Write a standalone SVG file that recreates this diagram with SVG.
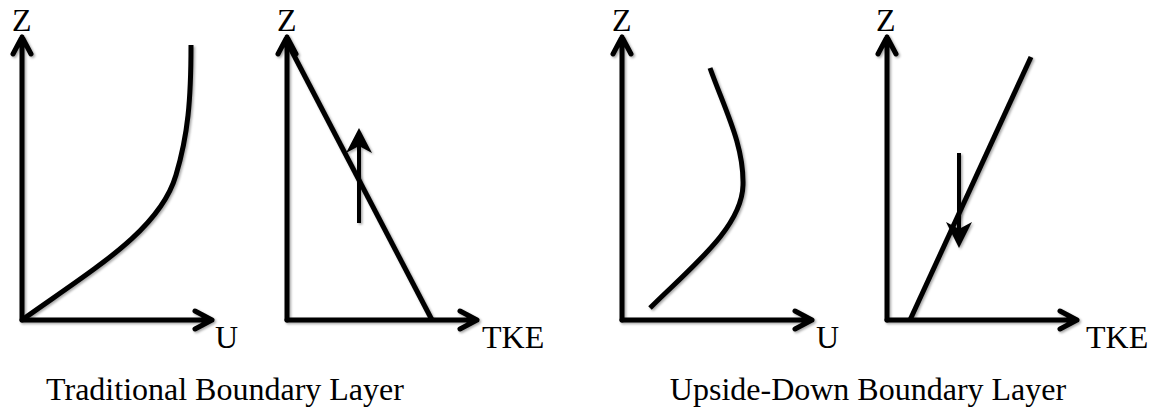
<svg xmlns="http://www.w3.org/2000/svg" width="1156" height="410" viewBox="0 0 1156 410">
<style>
.ax{fill:none;stroke:#000;stroke-width:5;stroke-linecap:round;stroke-linejoin:round}
.cv{fill:none;stroke:#000;stroke-width:5;stroke-linecap:butt}
.sm{fill:none;stroke:#000;stroke-width:4}
.hd{fill:#000;stroke:none}
text{font-family:"Liberation Serif","Times New Roman",serif;fill:#000}
.lb{font-size:32px}
.cap{font-size:32px;text-anchor:middle}
</style>
<defs>
<filter id="sh" x="-10%" y="-10%" width="120%" height="120%">
<feDropShadow dx="1.5" dy="1.5" stdDeviation="1.2" flood-color="#000" flood-opacity="0.35"/>
</filter>
</defs>
<g id="panel1" filter="url(#sh)">
<path class="ax" d="M22,320 V37 M13,54 L22,37 L31,54"/>
<path class="ax" d="M22,320 H212 M195,311 L212,320 L195,329"/>
<path class="cv" d="M22,320 C95,268 160,230 176,175 C188,135 191,100 191,45"/>
</g>
<g id="panel2" filter="url(#sh)">
<path class="ax" d="M287,320 V37 M278,54 L287,37 L296,54"/>
<path class="ax" d="M287,320 H477 M460,311 L477,320 L460,329"/>
<path class="cv" d="M287,42 L432,320"/>
</g>
<g id="panel3" filter="url(#sh)">
<path class="ax" d="M622,320 V37 M613,54 L622,37 L631,54"/>
<path class="ax" d="M622,320 H812 M795,311 L812,320 L795,329"/>
<path class="cv" d="M650,308 C690,268 742,228 743,185 C744,145 725,110 710,68"/>
</g>
<g id="panel4" filter="url(#sh)">
<path class="ax" d="M887,320 V37 M878,54 L887,37 L896,54"/>
<path class="ax" d="M887,320 H1077 M1060,311 L1077,320 L1060,329"/>
<path class="cv" d="M910,320 L1031,57"/>
</g>
<g id="connectors" filter="url(#sh)">
<line class="sm" x1="359" y1="223" x2="359" y2="140"/>
<path class="hd" d="M359,128 L372,153 L359,146 L346,153 Z"/>
<line class="sm" x1="959" y1="153" x2="959" y2="236"/>
<path class="hd" d="M959,248 L972,222 L959,229 L946,222 Z"/>
</g>
<g id="labels">
<text class="lb" x="12" y="31">Z</text>
<text class="lb" x="277" y="31">Z</text>
<text class="lb" x="612" y="31">Z</text>
<text class="lb" x="876" y="31">Z</text>
<text class="lb" x="215" y="348">U</text>
<text class="lb" x="482" y="348">TKE</text>
<text class="lb" x="816" y="348">U</text>
<text class="lb" x="1086" y="348">TKE</text>
<text class="cap" x="225" y="400">Traditional Boundary Layer</text>
<text class="cap" x="868" y="400">Upside-Down Boundary Layer</text>
</g>
</svg>
